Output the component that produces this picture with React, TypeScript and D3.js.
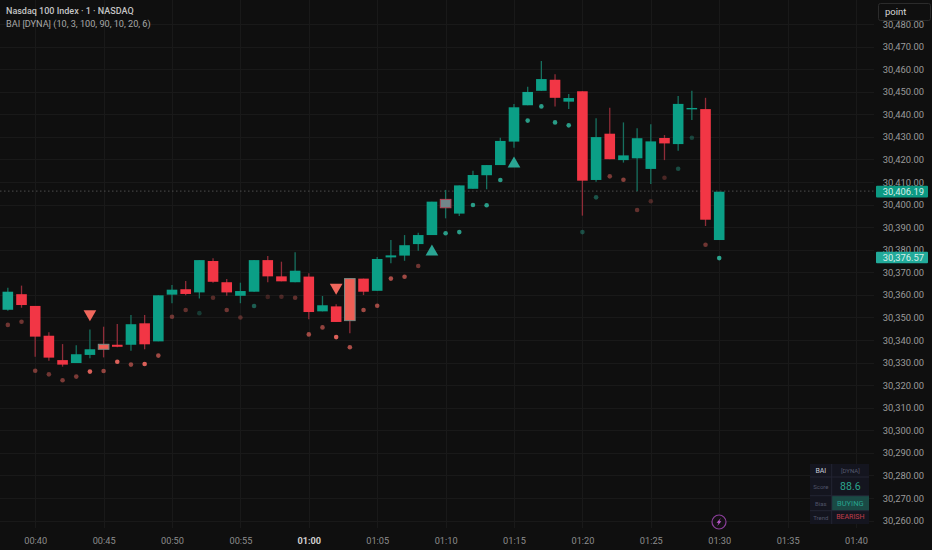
import React, { useEffect, useRef } from 'react';
import * as d3 from 'd3';

// One bar a minute, starting at 00:38
const firstBar = new Date(2024, 0, 1, 0, 38);

const opens = [
  30353.4, 30360.3, 30355.1, 30341.9, 30331.1, 30329.8, 30333.4, 30338.1, 30337.9, 30337.9,
  30347.4, 30339.4, 30360.1, 30362.5, 30361.1, 30375.0, 30365.6, 30359.6, 30361.4, 30375.4,
  30368.2, 30365.6, 30368.1, 30352.7, 30354.9, 30367.2, 30367.2, 30361.8, 30376.6, 30377.4,
  30382.5, 30386.5, 30398.6, 30396.0, 30407.0, 30413.0, 30417.5, 30427.9, 30444.0, 30450.4,
  30455.3, 30445.6, 30450.2, 30410.9, 30431.4, 30419.7, 30420.5, 30415.8, 30429.5, 30426.8,
  30442.2, 30442.3, 30384.3,
];
const closes = [
  30361.4, 30355.5, 30341.5, 30332.2, 30329.1, 30333.7, 30335.9, 30335.9, 30337.0, 30347.0,
  30338.1, 30359.8, 30362.3, 30360.4, 30375.4, 30365.8, 30361.1, 30361.7, 30375.4, 30368.2,
  30366.0, 30370.7, 30352.4, 30355.4, 30348.0, 30348.6, 30361.4, 30375.9, 30377.5, 30382.0,
  30386.5, 30401.3, 30402.3, 30408.5, 30413.1, 30417.5, 30428.2, 30443.1, 30449.9, 30455.6,
  30447.3, 30447.2, 30410.6, 30429.9, 30420.1, 30421.8, 30429.4, 30428.0, 30427.1, 30444.6,
  30442.8, 30393.3, 30405.7,
];
const highs = [
  30363.2, 30364.1, 30355.1, 30343.4, 30338.2, 30337.7, 30344.7, 30345.9, 30347.1, 30351.1,
  30351.1, 30359.8, 30364.4, 30366.1, 30375.4, 30376.2, 30367.0, 30365.4, 30375.4, 30377.2,
  30374.7, 30378.9, 30369.6, 30359.5, 30355.8, 30367.2, 30367.2, 30376.8, 30384.3, 30386.5,
  30387.5, 30401.3, 30406.5, 30408.5, 30415.0, 30417.5, 30429.6, 30444.6, 30452.2, 30463.6,
  30457.7, 30449.0, 30450.2, 30438.2, 30442.9, 30436.4, 30433.8, 30435.6, 30430.8, 30448.1,
  30450.4, 30447.3, 30405.7,
];
const lows = [
  30353.0, 30354.3, 30332.6, 30330.8, 30328.2, 30329.8, 30331.9, 30332.3, 30336.8, 30335.3,
  30335.9, 30339.4, 30356.3, 30359.8, 30358.4, 30365.4, 30359.6, 30356.3, 30361.4, 30365.6,
  30366.0, 30365.6, 30349.2, 30352.7, 30348.0, 30343.0, 30359.9, 30361.8, 30374.0, 30375.1,
  30379.6, 30386.5, 30393.9, 30394.9, 30407.0, 30406.8, 30417.5, 30425.2, 30444.0, 30450.4,
  30443.4, 30442.3, 30395.1, 30410.1, 30420.1, 30418.6, 30405.9, 30409.1, 30419.7, 30423.9,
  30437.5, 30390.5, 30384.3,
];

// BAI dots, null where a triangle signal sits instead
const dotPrices = [
  30346.7, 30348.1, 30326.4, 30324.8, 30322.2, 30323.8, 30326.0, 30326.3, 30330.4, 30329.1,
  30329.4, 30333.1, 30350.3, 30353.3, 30351.9, 30358.7, 30353.3, 30350.0, 30355.1, 30359.1,
  30359.2, 30358.7, 30342.5, 30345.6, 30341.3, 30336.8, 30353.3, 30355.2, 30367.2, 30368.0,
  30372.8, null, 30387.3, 30387.8, 30399.8, 30399.7, 30410.9, null, 30437.2, 30443.5,
  30436.4, 30435.1, 30387.8, 30403.2, 30412.5, 30411.0, 30397.6, 30401.5, 30411.9, 30415.9,
  30429.6, 30382.2, 30376.3,
];
// Bars whose dot is green, the rest are red
const greenDots = [14, 18, 32, 33, 34, 35, 36, 38, 39, 40, 41, 42, 43, 49, 50, 52];
const dotStrength = [
  0.4, 0.4, 0.45, 0.4, 0.45, 0.45, 0.85, 0.55, 0.85, 0.55,
  0.85, 0.6, 0.4, 0.35, 0.25, 0.3, 0.4, 0.3, 0.45, 0.2,
  0.25, 0.35, 0.6, 0.55, 0.85, 0.65, 0.6, 0.6, 0.65, 0.6,
  0.4, 0, 0.8, 0.8, 0.8, 0.8, 0.8, 0, 0.8, 0.8,
  0.8, 0.8, 0.35, 0.4, 0.45, 0.5, 0.35, 0.25, 0.25, 0.35,
  0.3, 0.4, 0.85,
];

const sellSignals = [6, 24];
const buySignals = [31, 37];
const sellSignalPrices = [30351.6, 30363.3];
const buySignalPrices = [30379.1, 30418.1];

// Bars drawn with a second colour on top
const mixedBars = [7, 25, 32];
const paleBars = [0, 38];

const lastPrice = 30406.19;
const signalPrice = 30376.57;
const priceTicks = d3.range(30260, 30481, 10);

const tableRows = [
  ['BAI', '[DYNA]'],
  ['Score', '88.6'],
  ['Bias', 'BUYING'],
  ['Trend', 'BEARISH'],
];

const UP = '#0b9f86';
const DOWN = '#f23645';
const FONT = 'Roboto, Inter, sans-serif';

const App: React.FC = () => {
  const svgRef = useRef<SVGSVGElement>(null);

  useEffect(() => {
    if (!svgRef.current) return;
    const svg = d3.select(svgRef.current);
    svg.selectAll('*').remove();

    const plotRight = 874;
    const plotBottom = 528;

    const xScale = d3.scaleTime()
      .domain([new Date(2024, 0, 1, 0, 40), new Date(2024, 0, 1, 1, 40)])
      .range([35.2, 856]);
    const yScale = d3.scaleLinear()
      .domain([30260, 30480])
      .range([520.6, 24]);
    const barX = (i: number) => xScale(d3.timeMinute.offset(firstBar, i));

    svg.append('rect').attr('width', 932).attr('height', 550).attr('fill', '#0f0f0f');

    // grid
    const timeTicks = d3.timeMinute.range(
      new Date(2024, 0, 1, 0, 40), new Date(2024, 0, 1, 1, 41), 5);
    const grid = svg.append('g').attr('stroke', '#191919').attr('stroke-width', 1);
    grid.selectAll('line.h').data(priceTicks).join('line')
      .attr('class', 'h')
      .attr('x1', 0).attr('x2', plotRight)
      .attr('y1', d => Math.round(yScale(d)) + 0.5)
      .attr('y2', d => Math.round(yScale(d)) + 0.5);
    grid.selectAll('line.v').data(timeTicks).join('line')
      .attr('class', 'v')
      .attr('y1', 0).attr('y2', plotBottom)
      .attr('x1', d => Math.round(xScale(d)) + 0.5)
      .attr('x2', d => Math.round(xScale(d)) + 0.5);

    // last price line
    svg.append('line')
      .attr('x1', 0).attr('x2', plotRight)
      .attr('y1', yScale(lastPrice) + 0.5).attr('y2', yScale(lastPrice) + 0.5)
      .attr('stroke', '#4d4d4d').attr('stroke-dasharray', '1.5 2.5');

    // candles
    const bars = d3.range(opens.length);
    const bodyWidth = 10.6;
    const isUp = (i: number) => closes[i] >= opens[i];

    svg.append('g').selectAll('line').data(bars).join('line')
      .attr('x1', barX).attr('x2', barX)
      .attr('y1', i => yScale(highs[i]))
      .attr('y2', i => yScale(lows[i]))
      .attr('stroke', i => isUp(i) ? '#17705f' : '#8f2c38')
      .attr('stroke-width', 1.3);

    const bodyFill = (i: number) => {
      if (i === 32) return '#72868a';
      if (mixedBars.includes(i)) return '#ee5f55';
      if (paleBars.includes(i)) return '#14a68f';
      return isUp(i) ? UP : DOWN;
    };
    svg.append('g').selectAll('rect').data(bars).join('rect')
      .attr('x', i => barX(i) - bodyWidth / 2)
      .attr('width', bodyWidth)
      .attr('y', i => yScale(Math.max(opens[i], closes[i])))
      .attr('height', i => Math.max(1.4, Math.abs(yScale(opens[i]) - yScale(closes[i]))))
      .attr('fill', bodyFill)
      .attr('stroke', i => i === 32 ? '#b04a5a' : mixedBars.includes(i) ? '#7b8a85' : 'none')
      .attr('stroke-width', 1);

    // BAI dots
    const dotBars = bars.filter(i => dotPrices[i] !== null);
    svg.append('g').selectAll('circle').data(dotBars).join('circle')
      .attr('cx', barX)
      .attr('cy', i => yScale(dotPrices[i] as number))
      .attr('r', 2.3)
      .attr('fill', i => greenDots.includes(i) ? '#2fbfa5' : '#ff6f66')
      .attr('fill-opacity', i => dotStrength[i]);

    // signal triangles, a D3 symbol is centred on its point
    const triangle = d3.symbol().type(d3.symbolTriangle).size(70)();
    svg.append('g').selectAll('path').data(sellSignals).join('path')
      .attr('d', triangle)
      .attr('transform', (b, k) => `translate(${barX(b)},${yScale(sellSignalPrices[k])}) rotate(180)`)
      .attr('fill', '#f0675c');
    svg.append('g').selectAll('path').data(buySignals).join('path')
      .attr('d', triangle)
      .attr('transform', (b, k) => `translate(${barX(b)},${yScale(buySignalPrices[k])})`)
      .attr('fill', '#2aa593');

    // price axis
    const yAxis = d3.axisRight(yScale)
      .tickValues(priceTicks)
      .tickFormat(d => d3.format(',.2f')(d as number))
      .tickSize(0)
      .tickPadding(0);
    const yAxisG = svg.append('g')
      .attr('transform', 'translate(924,0)')
      .call(yAxis);
    yAxisG.select('.domain').remove();
    yAxisG.selectAll('text')
      .attr('text-anchor', 'end')
      .attr('x', 0)
      .style('font-family', FONT)
      .style('font-size', '9.4px')
      .style('fill', '#9b9b9b');

    // time axis
    const xAxis = d3.axisBottom(xScale)
      .tickValues(timeTicks)
      .tickFormat(d => d3.timeFormat('%H:%M')(d as Date))
      .tickSize(0)
      .tickPadding(0);
    const xAxisG = svg.append('g')
      .attr('transform', 'translate(0,537)')
      .call(xAxis);
    xAxisG.select('.domain').remove();
    xAxisG.selectAll<SVGTextElement, Date>('text')
      .style('font-family', FONT)
      .style('font-size', '9.2px')
      .style('font-weight', d => d.getHours() === 1 && d.getMinutes() === 0 ? '700' : '400')
      .style('fill', d => d.getHours() === 1 && d.getMinutes() === 0 ? '#cfcfcf' : '#8d8d8d');

    // price tags on the axis
    const tags = [
      { price: lastPrice, fill: '#0c9a83' },
      { price: signalPrice, fill: '#22aa9a' },
    ];
    const tagG = svg.append('g').selectAll('g').data(tags).join('g')
      .attr('transform', d => `translate(876,${yScale(d.price) + (d === tags[0] ? 1 : 0)})`);
    tagG.append('rect')
      .attr('y', -5.8).attr('width', 52).attr('height', 11.6).attr('rx', 1)
      .attr('fill', d => d.fill);
    tagG.append('text')
      .attr('x', 48).attr('y', 3.4).attr('text-anchor', 'end')
      .style('font-family', FONT).style('font-size', '9.4px')
      .style('fill', '#d8efe9')
      .text(d => d3.format(',.2f')(d.price));

    // interval box, covers the top of the axis
    svg.append('rect')
      .attr('x', 878.5).attr('y', 3.5).attr('width', 52).attr('height', 17).attr('rx', 2)
      .attr('fill', '#0f0f0f').attr('stroke', '#2b2b2b');
    svg.append('text')
      .attr('x', 885).attr('y', 15)
      .style('font-family', FONT).style('font-size', '9.5px').style('fill', '#d6d6d6')
      .text('point');

    // legend
    svg.append('text')
      .attr('x', 6).attr('y', 14)
      .style('font-family', FONT).style('font-size', '9px').style('font-weight', '500')
      .style('fill', '#c4c4c4')
      .text('Nasdaq 100 Index · 1 · NASDAQ');
    svg.append('text')
      .attr('x', 6).attr('y', 26.5)
      .style('font-family', FONT).style('font-size', '9.15px')
      .style('fill', '#a8a8a8')
      .text('BAI [DYNA] (10, 3, 100, 90, 10, 20, 6)');

    // lightning badge
    const badge = svg.append('g').attr('transform', 'translate(719,522)');
    badge.append('circle').attr('r', 7).attr('fill', '#141014')
      .attr('stroke', '#8b3f9b').attr('stroke-width', 1.2);
    badge.append('path').attr('d', 'M1.8,-4 L-2.4,0.8 L-0.3,0.8 L-1.8,4 L2.4,-0.8 L0.3,-0.8 Z')
      .attr('fill', '#c45fd6');

    // BAI table
    const rowEdges = [464, 477, 495.7, 510.7, 524];
    const colEdges = [810, 831.7, 869];
    const table = svg.append('g');
    table.append('rect')
      .attr('x', colEdges[0]).attr('y', rowEdges[0])
      .attr('width', colEdges[2] - colEdges[0]).attr('height', rowEdges[4] - rowEdges[0])
      .attr('fill', '#14151f');
    table.append('rect')
      .attr('x', colEdges[1]).attr('y', rowEdges[2])
      .attr('width', colEdges[2] - colEdges[1]).attr('height', rowEdges[3] - rowEdges[2])
      .attr('fill', '#1a4a45');
    table.selectAll('line.r').data(rowEdges.slice(1, 4)).join('line')
      .attr('class', 'r')
      .attr('x1', colEdges[0]).attr('x2', colEdges[2])
      .attr('y1', d => d).attr('y2', d => d)
      .attr('stroke', '#232433');
    table.append('line')
      .attr('x1', colEdges[1]).attr('x2', colEdges[1])
      .attr('y1', rowEdges[0]).attr('y2', rowEdges[4])
      .attr('stroke', '#232433');

    const leftStyle = ['#c8cbd8', '#4f5468', '#4f5468', '#4f5468'];
    const rightStyle = ['#565b70', '#2ba58e', '#27a38e', '#c23d4a'];
    const rightSize = [6, 10.5, 7.5, 7];
    tableRows.forEach((row, r) => {
      const mid = (rowEdges[r] + rowEdges[r + 1]) / 2;
      table.append('text')
        .attr('x', (colEdges[0] + colEdges[1]) / 2).attr('y', mid)
        .attr('text-anchor', 'middle').attr('dominant-baseline', 'central')
        .style('font-family', FONT)
        .style('font-size', r === 0 ? '7px' : '6px')
        .style('fill', leftStyle[r])
        .text(row[0]);
      table.append('text')
        .attr('x', (colEdges[1] + colEdges[2]) / 2).attr('y', mid)
        .attr('text-anchor', 'middle').attr('dominant-baseline', 'central')
        .style('font-family', FONT)
        .style('font-size', `${rightSize[r]}px`)
        .style('fill', rightStyle[r])
        .text(row[1]);
    });
  }, []);

  return <svg ref={svgRef} width={932} height={550} style={{ position: 'absolute', left: 0, top: 0, display: 'block' }} />;
};

export default App;
